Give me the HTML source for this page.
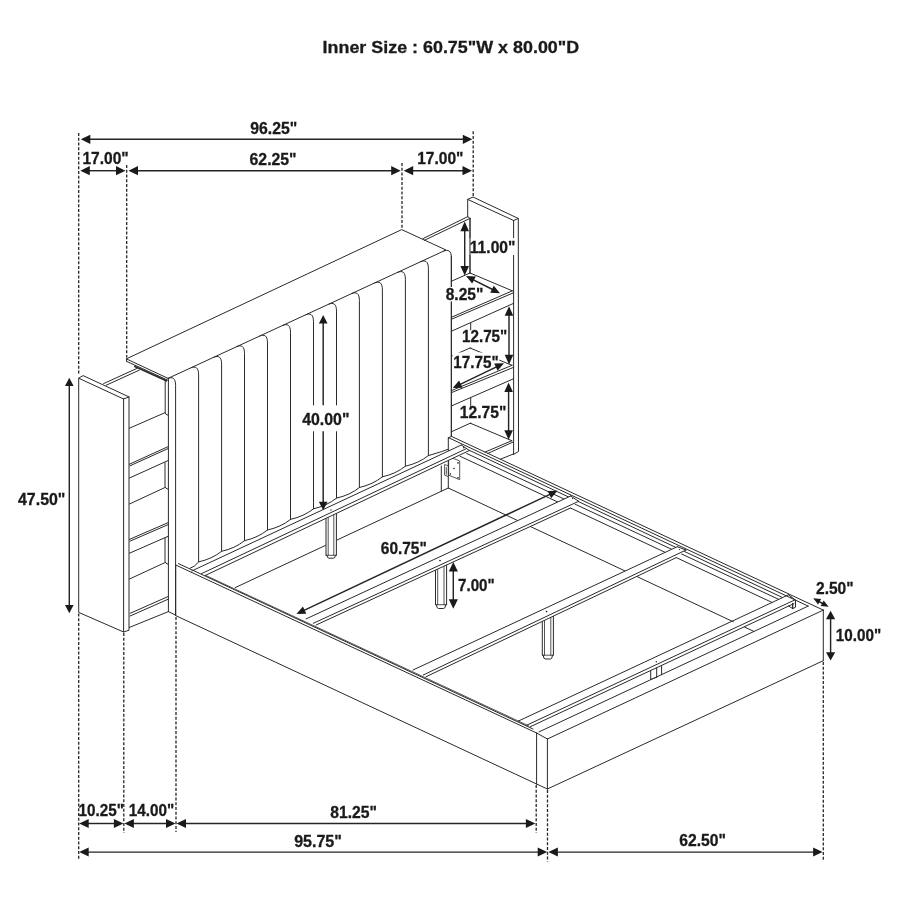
<!DOCTYPE html>
<html><head><meta charset="utf-8"><title>Bed dimensions</title>
<style>
html,body{margin:0;padding:0;background:#fff;}
body{width:900px;height:900px;overflow:hidden;font-family:"Liberation Sans",sans-serif;}
svg{display:block;filter:grayscale(100%);}
.o{stroke:#2a2a2a;stroke-width:1;fill:none;stroke-linecap:round;stroke-linejoin:round;}
.t{stroke:#2a2a2a;stroke-width:0.8;fill:none;stroke-linecap:round;stroke-linejoin:round;}
.k{stroke:#2a2a2a;stroke-width:1.6;fill:none;stroke-linecap:round;}
.wf{stroke:#2a2a2a;stroke-width:1;fill:#fff;stroke-linejoin:round;}
.w{fill:#fff;stroke:none;}
.m{stroke:#242424;stroke-width:1.45;fill:none;}
.a{fill:#1a1a1a;stroke:none;}
.d{stroke:#262626;stroke-width:1.3;fill:none;stroke-dasharray:2.9 1.85;}
text{font-family:"Liberation Sans",sans-serif;font-weight:bold;font-size:15.7px;fill:#1a1a1a;stroke:#1a1a1a;stroke-width:0.3px;}
</style></head><body>
<svg width="900" height="900" viewBox="0 0 900 900">
<rect class="w" x="0" y="0" width="900" height="900"/>
<line class="o" x1="235.2" y1="587.6" x2="448.3" y2="488"/>
<line class="o" x1="441.3" y1="466" x2="441.3" y2="491.2"/>
<line class="o" x1="448.3" y1="438" x2="448.3" y2="488"/>
<polygon class="t" points="449,456.6 459.7,461 459.7,479.7 449,475.3"/>
<circle class="a" cx="454" cy="468.5" r="0.8"/>
<circle class="a" cx="458" cy="462.9" r="0.8"/>
<circle class="a" cx="450.4" cy="474" r="0.8"/>
<circle class="a" cx="458" cy="477.8" r="0.8"/>
<path class="t" d="M447.6 465.5 L444.6 464.6 L444.6 475.2 L447.6 476.4 M446.3 467.5 L446.3 474.3"/>
<path class="o" d="M168 378.4 C172.4 376.6 175.6 377.9 175.6 385.4 L175.6 615.1"/>
<path class="o" d="M191 367.8 C195.4 365.9 198.6 367.3 198.6 374.8 L198.6 561.9"/>
<path class="o" d="M214 357.2 C218.4 355.3 221.6 356.6 221.6 364.1 L221.6 551.3"/>
<path class="o" d="M236.9 346.5 C241.3 344.7 244.5 346 244.5 353.5 L244.5 540.7"/>
<path class="o" d="M259.9 335.9 C264.3 334.1 267.5 335.4 267.5 342.9 L267.5 530"/>
<path class="o" d="M282.9 325.3 C287.3 323.5 290.5 324.8 290.5 332.3 L290.5 519.4"/>
<path class="o" d="M305.9 314.7 C310.3 312.9 313.5 314.2 313.5 321.7 L313.5 508.8"/>
<path class="o" d="M328.9 304.1 C333.3 302.3 336.5 303.6 336.5 311.1 L336.5 498.1"/>
<path class="o" d="M351.8 293.5 C356.2 291.7 359.4 293 359.4 300.5 L359.4 487.5"/>
<path class="o" d="M374.8 282.9 C379.2 281 382.4 282.4 382.4 289.9 L382.4 476.8"/>
<path class="o" d="M397.8 272.3 C402.2 270.4 405.4 271.7 405.4 279.2 L405.4 466.2"/>
<path class="o" d="M420.8 261.6 C425.2 259.8 428.4 261.1 428.4 268.6 L428.4 455.6"/>
<path class="o" d="M443.8 251 C448.2 249.2 451.4 250.5 451.4 258 L451.4 436"/>
<path class="o" d="M189.9 568.4 Q194.8 566.9 198.6 561.9 Q212.1 558.9 221.6 551.3 Q235.1 548.3 244.5 540.7 Q258 537.6 267.5 530 Q281 527 290.5 519.4 Q304 516.3 313.5 508.8 Q327 505.7 336.5 498.1 Q350 495.1 359.4 487.5 Q372.9 484.4 382.4 476.8 Q395.9 473.8 405.4 466.2 Q418.9 463.1 428.4 455.6 L441.3 451.7 L448 449.3"/>
<polygon class="o" points="126.7,358.7 401.7,229.6 446,250 168.4,378.2"/>
<line class="o" x1="126.6" y1="358.5" x2="126.6" y2="361.4"/>
<line class="o" x1="126.6" y1="361.4" x2="168" y2="380.3"/>
<line class="k" x1="134.8" y1="366.5" x2="166.3" y2="380.8"/>
<line class="o" x1="168.4" y1="378.2" x2="168.4" y2="611.6"/>
<line class="o" x1="168.4" y1="611.6" x2="175.6" y2="615.1"/>
<line class="o" x1="103.6" y1="383.6" x2="137" y2="368.4"/>
<line class="o" x1="106.2" y1="385.2" x2="139.2" y2="370.2"/>
<path class="o" d="M165.2 381 L165.2 412.6 Q165.4 414.8 167.8 415.2"/>
<path class="o" d="M165 462.6 L165 486.3 Q165.2 488.6 167.8 489.2"/>
<path class="o" d="M165 538 L165 561.3 Q165.2 563.6 167.8 564.2"/>
<line class="o" x1="129" y1="428.4" x2="165.2" y2="412.6"/>
<line class="o" x1="129" y1="464.4" x2="168.4" y2="446.5"/>
<line class="o" x1="130" y1="465.8" x2="168.4" y2="448.4"/>
<line class="o" x1="129.5" y1="478" x2="168.4" y2="460.4"/>
<line class="o" x1="129.5" y1="504" x2="165" y2="487.5"/>
<line class="o" x1="129" y1="539.6" x2="168.4" y2="522.5"/>
<line class="o" x1="130" y1="541.2" x2="168.4" y2="524.5"/>
<line class="o" x1="129.5" y1="553.2" x2="168.4" y2="536.2"/>
<line class="o" x1="129.5" y1="579" x2="165" y2="562.6"/>
<line class="o" x1="130.2" y1="613.3" x2="168.4" y2="596.4"/>
<line class="o" x1="130.2" y1="616" x2="168.4" y2="599.1"/>
<line class="o" x1="129" y1="627.6" x2="168.4" y2="611.6"/>
<polygon class="wf" points="78.7,378.2 83.1,375.6 129,396.9 129,630.2 123.6,632 78.7,612.4"/>
<line class="o" x1="78.7" y1="378.2" x2="123.6" y2="399"/>
<line class="o" x1="123.6" y1="399" x2="129" y2="396.9"/>
<line class="o" x1="123.6" y1="399" x2="123.6" y2="632"/>
<line class="o" x1="423" y1="238.6" x2="467.7" y2="216.7"/>
<line class="o" x1="424.4" y1="240.3" x2="470" y2="218.4"/>
<line class="o" x1="467.7" y1="216.7" x2="470" y2="218.4"/>
<line class="o" x1="470" y1="218.4" x2="470" y2="273.3"/>
<polyline class="o" points="467.7,216.7 467.7,199.4 473,197 518.3,218.5 518.5,451.5 513.6,454.4"/>
<line class="o" x1="467.7" y1="199.4" x2="513.6" y2="220.5"/>
<line class="o" x1="513.6" y1="220.5" x2="518.3" y2="218.5"/>
<line class="o" x1="513.6" y1="220.5" x2="513.6" y2="454.4"/>
<line class="o" x1="451.3" y1="281.3" x2="470" y2="273"/>
<line class="o" x1="470" y1="273" x2="512" y2="290.7"/>
<line class="o" x1="451.3" y1="317.3" x2="512.7" y2="290.7"/>
<line class="o" x1="451.3" y1="319.3" x2="513.7" y2="292.7"/>
<line class="o" x1="451.3" y1="331.3" x2="513.7" y2="303.3"/>
<line class="o" x1="470.7" y1="323.3" x2="470.7" y2="348"/>
<line class="o" x1="451.3" y1="356.3" x2="470" y2="348"/>
<line class="o" x1="470" y1="348" x2="512" y2="365.3"/>
<line class="o" x1="451.3" y1="390.7" x2="512" y2="365.3"/>
<line class="o" x1="451.3" y1="392.7" x2="513.7" y2="367.3"/>
<line class="o" x1="451.3" y1="406" x2="513.7" y2="378.7"/>
<line class="o" x1="470.7" y1="398" x2="470.7" y2="423.2"/>
<line class="o" x1="451.3" y1="431.8" x2="470.3" y2="423.2"/>
<line class="o" x1="470.3" y1="423.2" x2="511.8" y2="440.7"/>
<line class="o" x1="511.8" y1="440.7" x2="485" y2="452.1"/>
<line class="o" x1="512.7" y1="442.2" x2="487.9" y2="453.4"/>
<line class="o" x1="512.9" y1="454.2" x2="500.4" y2="459.2"/>
<line class="o" x1="451.3" y1="256" x2="451.3" y2="436"/>
<line class="o" x1="448.3" y1="488" x2="733.3" y2="621.8"/>
<line class="o" x1="744.6" y1="627.1" x2="753.8" y2="631.4"/>
<path class="o" d="M326 512 L326 555.3 L327 555.3 Q327 558.2 329 558.2 L333.4 558.2 Q335.4 558.2 335.4 555.3 L336.4 555.3 L336.4 512" style="fill:#fff"/>
<line class="t" x1="326" y1="555.3" x2="336.4" y2="555.3"/>
<line class="t" x1="328.2" y1="512" x2="328.2" y2="555.3"/>
<line class="t" x1="333.8" y1="512" x2="333.8" y2="555.3"/>
<path class="o" d="M435.5 560 L435.5 604.7 L436.5 604.7 Q436.5 608.5 438.5 608.5 L443.6 608.5 Q445.6 608.5 445.6 604.7 L446.6 604.7 L446.6 560" style="fill:#fff"/>
<line class="t" x1="435.5" y1="604.7" x2="446.6" y2="604.7"/>
<line class="t" x1="437.7" y1="560" x2="437.7" y2="604.7"/>
<line class="t" x1="444" y1="560" x2="444" y2="604.7"/>
<path class="o" d="M542.3 611 L542.3 655.2 L543.3 655.2 Q543.3 659 545.3 659 L550.4 659 Q552.4 659 552.4 655.2 L553.4 655.2 L553.4 611" style="fill:#fff"/>
<line class="t" x1="542.3" y1="655.2" x2="553.4" y2="655.2"/>
<line class="t" x1="544.5" y1="611" x2="544.5" y2="655.2"/>
<line class="t" x1="550.8" y1="611" x2="550.8" y2="655.2"/>
<polygon class="w" points="191.7,571 461.3,445 469.3,450.5 205.4,575.4"/>
<line class="o" x1="191.7" y1="571" x2="461.3" y2="445"/>
<line class="o" x1="201.4" y1="573.7" x2="465.5" y2="449.1"/>
<line class="o" x1="205.4" y1="575.4" x2="469.3" y2="450.5"/>
<line class="o" x1="461.3" y1="445" x2="469.3" y2="450.5"/>
<circle class="a" cx="331" cy="510" r="0.7"/>
<circle class="a" cx="463.7" cy="447.7" r="0.7"/>
<polyline class="o" points="451.3,436.3 823.3,610.1"/>
<polyline class="o" points="448.3,437.6 808.2,606.1"/>
<polyline class="o" points="469.3,450.3 782.6,597.6"/>
<polyline class="o" points="466.7,453.5 778.8,599.4"/>
<polyline class="o" points="460,456.2 772.1,602.5"/>
<line class="o" x1="448.3" y1="438" x2="451.3" y2="436.3"/>
<line class="o" x1="518.3" y1="721.1" x2="788.5" y2="594.8"/>
<line class="o" x1="526.9" y1="725.1" x2="795.1" y2="599.8"/>
<line class="o" x1="530.4" y1="726.7" x2="793.9" y2="603.6"/>
<line class="o" x1="539" y1="731.9" x2="808.2" y2="606.1"/>
<line class="o" x1="788.5" y1="594.8" x2="795.1" y2="599.8"/>
<circle class="a" cx="791.1" cy="597.2" r="0.6"/>
<path class="o" d="M788.3 605.8 L792.7 608.6 L792.7 603.1 L792.7 608.6 M792.7 608.6 L795.5 607.2 L795.5 600.6"/>
<line class="o" x1="650.7" y1="671.3" x2="650.7" y2="679.3"/>
<line class="o" x1="656.7" y1="668" x2="656.7" y2="677.3"/>
<line class="o" x1="661.6" y1="666" x2="661.6" y2="674.7"/>
<circle class="a" cx="656.3" cy="661.7" r="0.7"/>
<line class="t" x1="650.7" y1="679.3" x2="656.7" y2="677.3"/>
<polygon class="w" points="306.1,618.9 570.7,496 578.7,501.3 570.5,508 316.1,625 313.3,623.3"/>
<line class="o" x1="306.1" y1="618.9" x2="570.7" y2="496"/>
<line class="o" x1="313.3" y1="623.3" x2="578.7" y2="501.3"/>
<line class="o" x1="570.7" y1="496" x2="578.7" y2="501.3"/>
<line class="o" x1="316.1" y1="625" x2="570.5" y2="508"/>
<polygon class="w" points="413,670 677.3,546.7 686,550 676.3,557.6 426.1,676.7 423.3,675"/>
<line class="o" x1="413" y1="670" x2="677.3" y2="546.7"/>
<line class="o" x1="423.3" y1="675" x2="686" y2="550"/>
<line class="o" x1="677.3" y1="546.7" x2="686" y2="550"/>
<line class="o" x1="426.1" y1="676.7" x2="676.3" y2="557.6"/>
<circle class="a" cx="440" cy="560.6" r="0.8"/>
<circle class="a" cx="546.5" cy="611.6" r="0.8"/>
<circle class="a" cx="572.5" cy="498.6" r="0.6"/>
<circle class="a" cx="679.5" cy="549.6" r="0.6"/>
<line class="o" x1="175.7" y1="565" x2="536.6" y2="733"/>
<line class="o" x1="178.5" y1="563.6" x2="533" y2="729"/>
<line class="t" x1="205.4" y1="575.3" x2="529" y2="726"/>
<line class="o" x1="175.7" y1="565" x2="175.7" y2="615.6"/>
<line class="o" x1="175.7" y1="615.6" x2="536.6" y2="784"/>
<line class="o" x1="536.6" y1="733" x2="536.6" y2="784"/>
<line class="o" x1="547.4" y1="739" x2="547.4" y2="789"/>
<line class="o" x1="536.6" y1="733" x2="547.4" y2="739"/>
<line class="o" x1="536.6" y1="784" x2="547.4" y2="789"/>
<line class="o" x1="547.4" y1="739" x2="823.3" y2="610.1"/>
<line class="o" x1="547.4" y1="789" x2="823.3" y2="660.7"/>
<line class="o" x1="823.3" y1="610.1" x2="823.3" y2="660.7"/>
<line class="d" x1="78.7" y1="133" x2="78.7" y2="374"/>
<line class="d" x1="126.7" y1="165" x2="126.7" y2="357.5"/>
<line class="d" x1="402" y1="163" x2="402" y2="228.5"/>
<line class="d" x1="473.2" y1="131.3" x2="473.2" y2="196"/>
<line class="d" x1="78.7" y1="613.5" x2="78.7" y2="858.7"/>
<line class="d" x1="123.8" y1="633" x2="123.8" y2="833"/>
<line class="d" x1="176" y1="617" x2="176" y2="832"/>
<line class="d" x1="536.2" y1="785" x2="536.2" y2="833"/>
<line class="d" x1="547.5" y1="790" x2="547.5" y2="861.7"/>
<line class="d" x1="823.3" y1="662" x2="823.3" y2="860"/>
<line class="m" x1="88.4" y1="139.3" x2="464.7" y2="139.3"/>
<polygon class="a" points="80.8,139.3 90.3,134.8 90.3,143.9"/>
<polygon class="a" points="472.3,139.3 462.8,143.9 462.8,134.8"/>
<line class="m" x1="87.9" y1="170.7" x2="117.9" y2="170.7"/>
<polygon class="a" points="80.3,170.7 89.8,166.1 89.8,175.2"/>
<polygon class="a" points="125.5,170.7 116,175.2 116,166.1"/>
<line class="m" x1="136.1" y1="170.7" x2="393.1" y2="170.7"/>
<polygon class="a" points="128.5,170.7 138,166.1 138,175.2"/>
<polygon class="a" points="400.7,170.7 391.2,175.2 391.2,166.1"/>
<line class="m" x1="411.3" y1="170.7" x2="464.4" y2="170.7"/>
<polygon class="a" points="403.7,170.7 413.2,166.1 413.2,175.2"/>
<polygon class="a" points="472,170.7 462.5,175.2 462.5,166.1"/>
<line class="m" x1="86.8" y1="823.5" x2="115.8" y2="823.5"/>
<polygon class="a" points="79.2,823.5 88.7,819 88.7,828"/>
<polygon class="a" points="123.4,823.5 113.9,828 113.9,819"/>
<line class="m" x1="132" y1="823.5" x2="167.9" y2="823.5"/>
<polygon class="a" points="124.4,823.5 133.9,819 133.9,828"/>
<polygon class="a" points="175.5,823.5 166,828 166,819"/>
<line class="m" x1="184.1" y1="823.5" x2="527.8" y2="823.5"/>
<polygon class="a" points="176.5,823.5 186,819 186,828"/>
<polygon class="a" points="535.4,823.5 525.9,828 525.9,819"/>
<line class="m" x1="86.8" y1="852.1" x2="539.6" y2="852.1"/>
<polygon class="a" points="79.2,852.1 88.7,847.6 88.7,856.6"/>
<polygon class="a" points="547.2,852.1 537.7,856.6 537.7,847.6"/>
<line class="m" x1="556" y1="852.1" x2="815" y2="852.1"/>
<polygon class="a" points="548.4,852.1 557.9,847.6 557.9,856.6"/>
<polygon class="a" points="822.6,852.1 813.1,856.6 813.1,847.6"/>
<line class="m" x1="69.3" y1="384.3" x2="69.3" y2="606.7"/>
<polygon class="a" points="69.3,377.7 73.6,385.9 65,385.9"/>
<polygon class="a" points="69.3,613.3 65,605.1 73.6,605.1"/>
<text x="322.6" y="53.3" textLength="256.6" lengthAdjust="spacingAndGlyphs" style="font-size:17px">Inner Size : 60.75&quot;W x 80.00&quot;D</text>
<text x="250.3" y="133.5" textLength="47" lengthAdjust="spacingAndGlyphs">96.25&quot;</text>
<text x="82.4" y="163.6" textLength="46.3" lengthAdjust="spacingAndGlyphs">17.00&quot;</text>
<text x="249.6" y="164.5" textLength="47" lengthAdjust="spacingAndGlyphs">62.25&quot;</text>
<text x="417.2" y="163.5" textLength="46.3" lengthAdjust="spacingAndGlyphs">17.00&quot;</text>
<text x="18" y="504.8" textLength="47.4" lengthAdjust="spacingAndGlyphs">47.50&quot;</text>
<text x="78.6" y="816.3" textLength="45.4" lengthAdjust="spacingAndGlyphs">10.25&quot;</text>
<text x="128.8" y="816.3" textLength="45.4" lengthAdjust="spacingAndGlyphs">14.00&quot;</text>
<text x="330.3" y="817.8" textLength="46.7" lengthAdjust="spacingAndGlyphs">81.25&quot;</text>
<text x="294.2" y="846.5" textLength="47.7" lengthAdjust="spacingAndGlyphs">95.75&quot;</text>
<text x="679.2" y="846" textLength="46.7" lengthAdjust="spacingAndGlyphs">62.50&quot;</text>
<rect class="w" x="469.2" y="238.1" width="46.8" height="16.9"/>
<text x="469.8" y="253.1" textLength="45.6" lengthAdjust="spacingAndGlyphs">11.00&quot;</text>
<line class="o" x1="470" y1="218.4" x2="470" y2="273.3"/>
<rect class="w" x="445.1" y="287" width="38.8" height="14.4"/>
<text x="445.7" y="300" textLength="37.6" lengthAdjust="spacingAndGlyphs">8.25&quot;</text>
<rect class="w" x="461.4" y="330.3" width="46.5" height="17"/>
<text x="462" y="342" textLength="45.3" lengthAdjust="spacingAndGlyphs">12.75&quot;</text>
<rect class="w" x="452.7" y="352.5" width="46.6" height="16.5"/>
<text x="453.3" y="368" textLength="45.4" lengthAdjust="spacingAndGlyphs">17.75&quot;</text>
<rect class="w" x="459.2" y="407.6" width="47.7" height="14.9"/>
<text x="459.8" y="418" textLength="46.5" lengthAdjust="spacingAndGlyphs">12.75&quot;</text>
<line class="m" x1="464.7" y1="229.3" x2="464.7" y2="267.9"/>
<polygon class="a" points="464.7,221.6 469,231.2 460.4,231.2"/>
<polygon class="a" points="464.7,275.6 460.4,266 469,266"/>
<line class="m" x1="472.4" y1="279.3" x2="493.6" y2="290"/>
<polygon class="a" points="466,276 475.8,276.5 472.2,283.6"/>
<polygon class="a" points="500,293.3 490.2,292.8 493.8,285.7"/>
<line class="m" x1="509" y1="313.9" x2="509" y2="356.7"/>
<polygon class="a" points="509,306.2 513.3,315.8 504.7,315.8"/>
<polygon class="a" points="509,364.4 504.7,354.8 513.3,354.8"/>
<line class="m" x1="459.2" y1="384.9" x2="497.5" y2="366.4"/>
<polygon class="a" points="452.7,388 459.1,380.5 462.5,387.7"/>
<polygon class="a" points="504,363.3 497.6,370.8 494.2,363.6"/>
<line class="m" x1="508.6" y1="390.1" x2="508.6" y2="432.1"/>
<polygon class="a" points="508.6,382.4 512.9,392 504.3,392"/>
<polygon class="a" points="508.6,439.8 504.3,430.2 512.9,430.2"/>
<rect class="w" x="300" y="405.3" width="52" height="26"/>
<line class="m" x1="323.2" y1="321.8" x2="323.2" y2="405.3"/>
<polygon class="a" points="323.2,314.9 327.5,323.5 318.9,323.5"/>
<line class="m" x1="323.2" y1="431.3" x2="323.2" y2="503.4"/>
<polygon class="a" points="323.2,510.3 318.9,501.7 327.5,501.7"/>
<text x="302.2" y="424.7" textLength="47.3" lengthAdjust="spacingAndGlyphs">40.00&quot;</text>
<line class="m" x1="303" y1="610.9" x2="551" y2="493.8"/>
<polygon class="a" points="296.5,614 302.9,606.5 306.3,613.8"/>
<polygon class="a" points="557.5,490.7 551.1,498.2 547.7,490.9"/>
<text x="380.8" y="554.1" textLength="46" lengthAdjust="spacingAndGlyphs">60.75&quot;</text>
<line class="m" x1="453.3" y1="569.6" x2="453.3" y2="601.1"/>
<polygon class="a" points="453.3,562 457.9,571.5 448.8,571.5"/>
<polygon class="a" points="453.3,608.7 448.8,599.2 457.9,599.2"/>
<text x="458" y="590.9" textLength="36.7" lengthAdjust="spacingAndGlyphs">7.00&quot;</text>
<line class="m" x1="818.3" y1="601.1" x2="823.5" y2="604"/>
<polygon class="a" points="813.2,598.3 821.1,599.1 818.1,604.5"/>
<polygon class="a" points="828.6,606.8 820.7,606 823.7,600.6"/>
<text x="816" y="594.3" textLength="37.6" lengthAdjust="spacingAndGlyphs">2.50&quot;</text>
<line class="m" x1="830.6" y1="617.5" x2="830.6" y2="653.9"/>
<polygon class="a" points="830.6,610.8 835.2,619.2 826,619.2"/>
<polygon class="a" points="830.6,660.6 826,652.2 835.2,652.2"/>
<text x="835.8" y="641.3" textLength="45.4" lengthAdjust="spacingAndGlyphs">10.00&quot;</text>
</svg>
</body></html>
